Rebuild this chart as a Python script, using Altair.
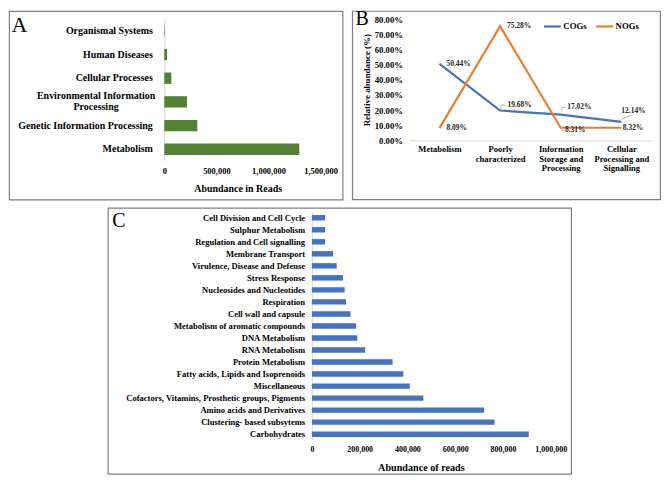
import altair as alt
import pandas as pd

# ---------------- data ----------------
# Panel A (KEGG level 1)
kegg_cats = ["Organismal Systems", "Human Diseases", "Cellular Processes",
             "Environmental Information|Processing", "Genetic Information Processing", "Metabolism"]
kegg_reads = [5000, 26000, 68000, 218000, 317000, 1296000]
kegg_ticks = [0, 500000, 1000000, 1500000]

# Panel B (COGs / NOGs)
cog_cats = ["Metabolism", "Poorly|characterized", "Information|Storage and|Processing",
            "Cellular|Processing and|Signalling"]
cogs_pct = [50.44, 19.68, 17.02, 12.14]
nogs_pct = [8.09, 75.28, 8.31, 8.32]
series_names = ["COGs", "NOGs"]
pct_ticks = [0, 10, 20, 30, 40, 50, 60, 70, 80]

# Panel C (SEED subsystems)
seed_cats = ["Cell Division and Cell Cycle", "Sulphur Metabolism", "Regulation and Cell signalling",
             "Membrane Transport", "Virulence, Disease and Defense", "Stress Response",
             "Nucleosides and Nucleotides", "Respiration", "Cell wall and capsule",
             "Metabolism of aromatic compounds", "DNA Metabolism", "RNA Metabolism",
             "Protein Metabolism", "Fatty acids, Lipids and Isoprenoids", "Miscellaneous",
             "Cofactors, Vitamins, Prosthetic groups, Pigments", "Amino acids and Derivatives",
             "Clustering- based subsytems", "Carbohydrates"]
seed_reads = [55000, 55000, 55000, 89000, 104000, 130000, 137000, 143000, 162000, 185000,
              190000, 223000, 338000, 383000, 410000, 467000, 721000, 765000, 908000]
seed_ticks = [0, 200000, 400000, 600000, 800000, 1000000]

# ---------------- style ----------------
FONT = "Liberation Serif"
BORDER = "#7f7f7f"
LIGHT = "#d9d9d9"
one = pd.DataFrame({"k": [0]})


def border(x1, x2, y1, y2):
    return alt.Chart(one).mark_rect(fillOpacity=0, stroke=BORDER, strokeWidth=1.2).encode(
        x=alt.value(x1), x2=alt.value(x2), y=alt.value(y1), y2=alt.value(y2))


def letter(ch, x, y, size):
    return alt.Chart(one).mark_text(text=ch, font=FONT, fontSize=size, align="left",
                                    baseline="alphabetic", color="black").encode(
        x=alt.value(x), y=alt.value(y))


# ---------------- Panel A ----------------
dfA = pd.DataFrame({"cat": kegg_cats, "reads": kegg_reads})
A_W, A_H = 157, 142.7
env_test = "datum.value == 'Environmental Information|Processing'"
barsA = alt.Chart(dfA).mark_bar(color="#548235").encode(
    x=alt.X("reads:Q", scale=alt.Scale(domain=[0, 1500000], nice=False),
            axis=alt.Axis(values=kegg_ticks, format=",d", title="Abundance in Reads",
                          domain=False, ticks=False, grid=False, labelFlush=False,
                          labelFontSize=8.5, labelPadding=5, titleFontSize=10, titlePadding=9,
                          titleX=73.7)),
    y=alt.Y("cat:N", sort=None, scale=alt.Scale(paddingInner=0.52, paddingOuter=0.26),
            axis=alt.Axis(title=None, domain=True, domainColor=LIGHT, ticks=False, grid=False,
                          labelExpr="split(datum.label, '|')", labelFontSize=10,
                          labelLineHeight=10.8, labelLimit=300,
                          labelAlign={"condition": {"test": env_test, "value": "center"}, "value": "right"},
                          labelOffset={"condition": {"test": env_test, "value": -5.4}, "value": 0},
                          labelPadding={"condition": {"test": env_test, "value": 69}, "value": 12})),
)
panelA = alt.layer(
    border(-155.6, 179.4, -7.6, 181.6),
    barsA,
    letter("A", -153.6, 13.0, 22),
).properties(width=A_W, height=A_H)

# ---------------- Panel B ----------------
dfB = pd.DataFrame({
    "cat": cog_cats * 2,
    "idx": [0, 1, 2, 3] * 2,
    "series": [series_names[0]] * 4 + [series_names[1]] * 4,
    "pct": cogs_pct + nogs_pct,
})
B_W, B_H = 243.6, 121.9
xB = alt.X("cat:N", sort=cog_cats, scale=alt.Scale(type="point", padding=0.5),
           axis=alt.Axis(title=None, labelAngle=0, domain=True, domainColor=LIGHT, ticks=False,
                         grid=False, labelExpr="split(datum.label, '|')", labelFontSize=8.6,
                         labelLineHeight=9.8, labelPadding=4, labelBaseline="top"))
yB = alt.Y("pct:Q", scale=alt.Scale(domain=[0, 80], nice=False),
           axis=alt.Axis(values=pct_ticks, labelExpr="format(datum.value, '.2f') + '%'",
                         title="Relative abundance (%)", domain=False, ticks=False, grid=False,
                         labelFontSize=8.7, labelPadding=6.8, titleFontSize=9, titlePadding=3))
# legend ends up in the root group, whose origin is panel A's plot origin
colorB = alt.Color("series:N", scale=alt.Scale(domain=series_names, range=["#4472C4", "#ED7D31"]),
                   legend=alt.Legend(orient="none", legendX=379.9, legendY=-2.6, direction="horizontal",
                                     title=None, labelFont=FONT, labelFontWeight="bold",
                                     labelFontSize=8.8, labelColor="black", symbolType="stroke",
                                     symbolSize=289, symbolStrokeWidth=2.2, labelOffset=1,
                                     columnPadding=4.5, padding=0))
linesB = alt.Chart(dfB).mark_line(strokeWidth=2.2).encode(
    x=xB, y=yB, color=colorB, order=alt.Order("idx:Q"))

label_offsets = {("COGs", 0): (7, 0), ("COGs", 1): (7.5, -5.7), ("COGs", 2): (6.5, -7.2),
                 ("COGs", 3): (0, -11), ("NOGs", 0): (7, 0), ("NOGs", 1): (7, -0.5),
                 ("NOGs", 2): (4.3, 2.5), ("NOGs", 3): (1.5, 0.5)}
text_layers = []
for (s, i), (dx, dy) in label_offsets.items():
    text_layers.append(
        alt.Chart(dfB).transform_filter(f"datum.series == '{s}' && datum.idx == {i}")
        .transform_calculate(lab="format(datum.pct, '.2f') + '%'")
        .mark_text(dx=dx, dy=dy, align="left", baseline="middle", font=FONT, fontWeight="bold",
                   fontSize=7.5, color="#262626")
        .encode(x=xB, y=yB, text="lab:N"))

# leader lines (offset from point, length, angle)
leaders = [(("COGs", 1), 1, -3.5, 4.4, 90), (("COGs", 1), 3, -5.7, 4, 0),
           (("COGs", 2), 1, -5.2, 4, 90), (("COGs", 2), 3, -7.2, 4, 0),
           (("NOGs", 2), 1, 1.25, 2.5, 90), (("NOGs", 2), 2.5, 2.5, 3, 0),
           (("COGs", 3), 4.7, -4.65, 10.9, 156.7)]
leader_layers = []
for (s, i), ox, oy, L, ang in leaders:
    leader_layers.append(
        alt.Chart(dfB).transform_filter(f"datum.series == '{s}' && datum.idx == {i}")
        .mark_point(shape="stroke", size=L * L, angle=ang, xOffset=ox, yOffset=oy,
                    filled=False, stroke="#a6a6a6", strokeWidth=0.8, opacity=1)
        .encode(x=xB, y=yB))

panelB = alt.layer(
    border(-56.9, 252.4, -7.8, 181.4),
    linesB,
    *leader_layers,
    *text_layers,
    letter("B", -54, 6.5, 20),
).properties(width=B_W, height=B_H)

# ---------------- Panel C ----------------
# Its view starts at panel A's plot origin (the vconcat aligns origins); the zero of the
# x scale sits 148.3 px to the right, where the y axis is moved to.
dfC = pd.DataFrame({"cat": seed_cats, "reads": seed_reads})
C_SHIFT = 148.3
C_SPAN = 239.9           # px for 0 .. 1,000,000
C_W, C_H = C_SHIFT + C_SPAN, 229.5
c_min = -C_SHIFT / C_SPAN * 1000000
barsC = alt.Chart(dfC).mark_bar(color="#4472C4").encode(
    x=alt.X("reads:Q", scale=alt.Scale(domain=[c_min, 1000000], nice=False, zero=False),
            axis=alt.Axis(values=seed_ticks, format=",d", title="Abundance of reads",
                          domain=False, ticks=False, grid=False, labelFlush=False,
                          labelFontSize=8, labelPadding=5, titleFontSize=10.2, titlePadding=9,
                          titleX=257.8)),
    x2=alt.datum(0),
    y=alt.Y("cat:N", sort=None, scale=alt.Scale(paddingInner=0.55, paddingOuter=0.275),
            axis=alt.Axis(title=None, domain=True, domainColor=LIGHT, ticks=False, grid=False,
                          labelFontSize=8.6, labelPadding=7.3, labelLimit=400, offset=-C_SHIFT)),
)
panelC = alt.layer(
    border(-56.4, 409.0, -3.6, 263.5),
    barsC,
    letter("C", -52.2, 15.2, 20),
).properties(width=C_W, height=C_H)

# ---------------- layout ----------------
chart = alt.vconcat(
    alt.hconcat(panelA, panelB, spacing=8),
    panelC,
    spacing=5.6,
).properties(padding=0, background="white").configure_view(strokeWidth=0).configure_axis(
    labelFont=FONT, labelFontWeight="bold", labelColor="black",
    titleFont=FONT, titleFontWeight="bold", titleColor="black",
)

chart.save("out.html", embed_options={"renderer": "svg", "actions": False})
